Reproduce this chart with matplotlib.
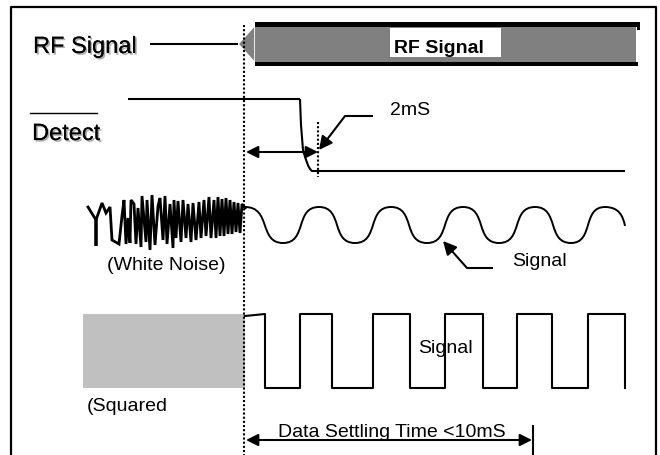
import matplotlib.pyplot as plt
import matplotlib.patheffects as pe
from matplotlib.path import Path
from matplotlib.patches import PathPatch, Rectangle, Polygon

plt.rcParams['font.family'] = ['Liberation Sans', 'DejaVu Sans']

# diagram geometry, in pixels of the 660x455 picture (y grows downwards)
frame_x = [11, 11, 656, 656]
frame_y = [455, 7, 7, 455]

rf_lead_x = [150, 238]
rf_bar_left, rf_bar_right = 255, 636
rf_bar_top, rf_bar_bottom = 25, 63

detect_x = [128, 300, 318, 625]
detect_high, detect_low = 99, 171

# white noise burst, vertices
noise_x = [88, 96, 96, 96, 102, 106, 110, 112, 119, 122, 124, 126, 128, 130, 131, 134,
           136, 138, 141, 142, 146, 147, 150, 152, 155, 158, 160, 163, 165, 167, 170, 173,
           174, 176, 178, 181, 183, 186, 188, 191, 193, 196, 199, 201, 204, 206, 209, 211,
           214, 216, 218, 220, 222, 224, 226, 228, 230, 232, 234, 236, 238, 240, 242, 245]
noise_y = [207, 220, 246, 220, 203, 213, 207, 240, 244, 216, 200, 244, 218, 243, 200, 204,
           244, 208, 247, 196, 242, 200, 250, 195, 245, 206, 198, 240, 196, 244, 204, 248,
           200, 238, 201, 242, 200, 238, 204, 242, 203, 240, 202, 238, 200, 236, 197, 238,
           200, 238, 197, 236, 199, 236, 198, 234, 200, 234, 202, 232, 203, 233, 204, 208]

# sine-like signal: alternating crest / trough positions
wave_ext_x = [247, 283, 319, 355, 391, 427, 463, 499, 535, 571, 605]
wave_crest, wave_trough = 207, 243
wave_end = (625, 226)

# squared signal
square_edges = [265, 300, 332, 373, 410, 445, 483, 517, 552, 588, 625]
square_high, square_low = 314, 388
square_box = (83, 245)

fig = plt.figure(figsize=(6.6, 4.55), dpi=100)
ax = fig.add_axes([0, 0, 1, 1])
ax.set_xlim(0, 660)
ax.set_ylim(455, 0)
ax.axis('off')

k = dict(color='black', lw=1.5, solid_capstyle='butt')
ax.plot(frame_x, frame_y, color='black', lw=1.6)

# RF signal row
shadow = [pe.withSimplePatchShadow(offset=(1.2, -1.2), shadow_rgbFace='#999999', alpha=0.8), pe.Normal()]
ax.text(33, 53, 'RF Signal', fontsize=17, path_effects=shadow)
ax.plot(rf_lead_x, [44, 44], **k)
ax.add_patch(Polygon([(rf_lead_x[1], 44), (rf_bar_left, rf_bar_top), (rf_bar_left, rf_bar_bottom)],
                     closed=True, facecolor='#808080', edgecolor='white', lw=1.2))
ax.add_patch(Rectangle((rf_bar_left, rf_bar_top), rf_bar_right - rf_bar_left, rf_bar_bottom - rf_bar_top,
                       facecolor='#808080', edgecolor='none'))
ax.add_patch(Rectangle((rf_bar_left, 22), rf_bar_right + 4 - rf_bar_left, 4.5, facecolor='black'))
ax.add_patch(Rectangle((rf_bar_left, 61.5), rf_bar_right + 2 - rf_bar_left, 4.5, facecolor='black'))
ax.add_patch(Rectangle((rf_bar_right + 1, 22), 2.5, 8, facecolor='black'))
ax.add_patch(Rectangle((390, 28), 111, 29, facecolor='white', edgecolor='none'))
ax.text(394, 53, 'RF Signal', fontsize=14, fontweight='bold')

# dotted reference lines
ax.plot([244, 244], [25, 455], color='black', lw=1.5, linestyle=(0, (1, 1)))
ax.plot([318, 318], [122, 177], color='black', lw=1.5, linestyle=(0, (1, 1)))

# Detect row
ax.text(32, 140, 'Detect', fontsize=17, path_effects=shadow)
ax.plot([30, 97], [113, 113], color='black', lw=1.0)
ax.plot(detect_x[:2], [detect_high, detect_high], **k)
fall = Path([(detect_x[1], detect_high), (301, 125), (303, 150), (306, 160),
             (308, 168), (312, 171), (detect_x[2], detect_low)],
            [Path.MOVETO, Path.LINETO, Path.LINETO, Path.CURVE4, Path.CURVE4, Path.CURVE4, Path.LINETO])
ax.add_patch(PathPatch(fall, facecolor='none', edgecolor='black', lw=1.5))
ax.plot(detect_x[2:], [detect_low, detect_low], **k)

ax.annotate('', xy=(246, 152), xytext=(318, 152),
            arrowprops=dict(arrowstyle='<|-|>', color='black', lw=1.5, mutation_scale=18,
                            shrinkA=0, shrinkB=0))
ax.text(390, 115, '2mS', fontsize=14)
ax.plot([373, 345], [116, 116], **k)
ax.annotate('', xy=(319, 150), xytext=(345, 116),
            arrowprops=dict(arrowstyle='-|>', color='black', lw=1.5, mutation_scale=20,
                            shrinkA=0, shrinkB=0))

# white noise then sine-like signal
ax.plot(noise_x, noise_y, color='black', lw=2.0, solid_joinstyle='miter')
verts = [(wave_ext_x[0] - 2, wave_crest)]
codes = [Path.MOVETO]
levels = [wave_crest if i % 2 == 0 else wave_trough for i in range(len(wave_ext_x))]
for i in range(1, len(wave_ext_x)):
    x0, x1 = wave_ext_x[i - 1], wave_ext_x[i]
    d = (x1 - x0) * 0.68
    verts += [(x0 + d, levels[i - 1]), (x1 - d, levels[i]), (x1, levels[i])]
    codes += [Path.CURVE4] * 3
verts += [(wave_ext_x[-1] + 14, wave_crest), (wave_end[0] - 2, wave_end[1] - 10), wave_end]
codes += [Path.CURVE4] * 3
ax.add_patch(PathPatch(Path(verts, codes), facecolor='none', edgecolor='black', lw=1.4))
ax.text(107, 270, '(White Noise)', fontsize=14)

ax.annotate('', xy=(443, 241), xytext=(467, 268),
            arrowprops=dict(arrowstyle='-|>', color='black', lw=1.5, mutation_scale=20,
                            shrinkA=0, shrinkB=0))
ax.plot([467, 493], [268, 268], **k)
ax.text(512, 266, 'Signal', fontsize=14)

# squared signal
ax.add_patch(Rectangle((square_box[0], square_high), square_box[1] - square_box[0],
                       square_low - square_high, facecolor='#c0c0c0', edgecolor='none'))
sq_x = [245, square_edges[0]]
sq_y = [square_high + 2, square_high]
level = square_high
for e in square_edges:
    level = square_low if level == square_high else square_high
    sq_x += [e, e]
    sq_y += [sq_y[-1], level]
ax.plot(sq_x, sq_y, color='black', lw=1.5)
ax.text(418, 353, 'Signal', fontsize=14)
ax.text(87, 411, '(Squared', fontsize=14)

# settling time
ax.annotate('', xy=(246, 440), xytext=(532, 440),
            arrowprops=dict(arrowstyle='<|-|>', color='black', lw=1.5, mutation_scale=18,
                            shrinkA=0, shrinkB=0))
ax.plot([533, 533], [425, 455], **k)
ax.text(278, 437, 'Data Settling Time <10mS', fontsize=14)

fig.savefig('out.png', dpi=100)
